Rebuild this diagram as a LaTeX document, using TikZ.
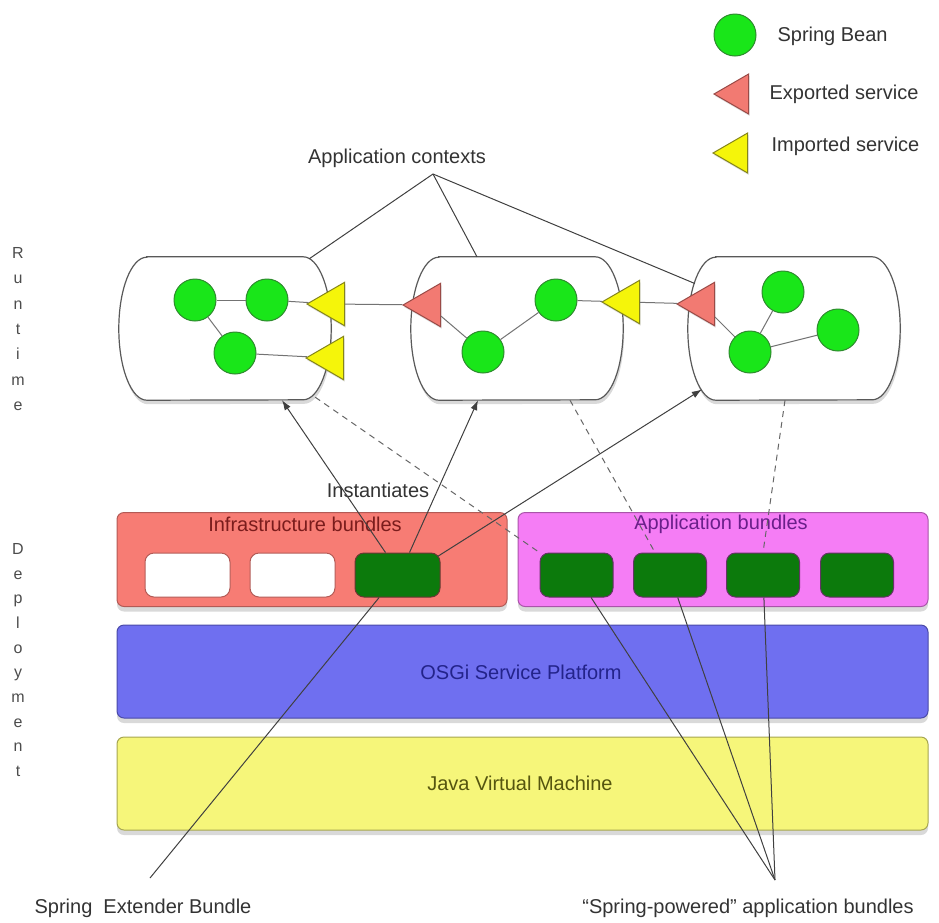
\documentclass[tikz,border=0pt]{standalone}
\usepackage{fontspec}
\setmainfont{Liberation Sans}
\usetikzlibrary{positioning,shapes.geometric,shadows,calc,arrows.meta}

\definecolor{beanfill}{HTML}{19E619}
\definecolor{beanedge}{HTML}{2E8B2E}
\definecolor{expfill}{HTML}{F27A72}
\definecolor{expedge}{HTML}{9A4A46}
\definecolor{impfill}{HTML}{F5F50A}
\definecolor{impedge}{HTML}{85851A}
\definecolor{infrafill}{HTML}{F77C74}
\definecolor{infraedge}{HTML}{B35A55}
\definecolor{infratext}{HTML}{7A1C1C}
\definecolor{appfill}{HTML}{F57DF5}
\definecolor{appedge}{HTML}{A955A9}
\definecolor{apptext}{HTML}{6A1F8A}
\definecolor{osgifill}{HTML}{6F6FF0}
\definecolor{osgiedge}{HTML}{4A4AA8}
\definecolor{osgitext}{HTML}{23238A}
\definecolor{jvmfill}{HTML}{F6F67A}
\definecolor{jvmedge}{HTML}{A6A650}
\definecolor{jvmtext}{HTML}{55550F}
\definecolor{bundlegreen}{HTML}{0C7A0C}

\begin{document}
\begin{tikzpicture}[x=1pt,y=-1pt,
      every node/.style={font=\fontsize{20}{22}\selectfont,text=black!80},
      bean/.style={circle,inner sep=0pt,minimum size=42pt,fill=beanfill,draw=beanedge,line width=1pt},
      svc/.style={regular polygon,regular polygon sides=3,shape border rotate=90,inner sep=0pt,minimum size=50pt,line width=1pt,drop shadow={shadow xshift=1pt,shadow yshift=-2pt,opacity=0.25}},
      exported/.style={svc,fill=expfill,draw=expedge},
      imported/.style={svc,fill=impfill,draw=impedge},
      ctxbox/.style={rectangle,minimum width=212pt,minimum height=143pt,inner sep=0pt},
      pill/.style={fill=white,draw=black!65,line width=1.2pt,drop shadow={shadow xshift=1pt,shadow yshift=-4pt,opacity=0.3}},
      layer/.style={rectangle,rounded corners=7pt,minimum height=94pt,line width=1pt,drop shadow={shadow xshift=0pt,shadow yshift=-5pt,opacity=0.3}},
      bundlebox/.style={rectangle,rounded corners=9pt,minimum height=44pt,line width=1pt},
      wire/.style={draw=black!55,line width=1pt},
      link/.style={draw=black!75,line width=1pt},
      instarrow/.style={link,-{Latex[length=10pt,width=7pt]}},
      dashlink/.style={draw=black!60,line width=1pt,dash pattern=on 6pt off 5pt},
      sidetext/.style={align=center,text=black!70}]
  \useasboundingbox (0,0) rectangle (939,922);

  % key
  \node[bean] (keybean) at (735,35) {};
  \node[anchor=west] (keybeantxt) at (774,36) {Spring Bean};
  \node[exported,minimum size=46pt] (keyexp) at (737,94) {};
  \node[anchor=west] (keyexptxt) at (766,94) {Exported service};
  \node[imported,minimum size=46pt] (keyimp) at (736,153) {};
  \node[anchor=west] (keyimptxt) at (768,146) {Imported service};

  % side labels
  \node[sidetext,font=\fontsize{16}{25.3}\selectfont] (runtimelbl) at (18,329) {R\\u\\n\\t\\i\\m\\e};
  \node[sidetext,font=\fontsize{16}{24.7}\selectfont] (deploylbl) at (18,660) {D\\e\\p\\l\\o\\y\\m\\e\\n\\t};

  % application contexts
  \node[ctxbox] (ctx1) at (225,328.5) {};
  \node[ctxbox] (ctx2) at (517,328.5) {};
  \node[ctxbox] (ctx3) at (794,328.5) {};
  \foreach \c in {ctx1,ctx2,ctx3}
    \draw[pill] ([xshift=28pt]\c.north west) -- ([xshift=-28pt]\c.north east)
      arc[start angle=90,end angle=-90,x radius=28pt,y radius=71.5pt]
      -- ([xshift=28pt]\c.south west)
      arc[start angle=270,end angle=90,x radius=28pt,y radius=71.5pt] -- cycle;

  \node[bean] (b11) at (195,300) {};
  \node[bean] (b12) at (267,300) {};
  \node[bean] (b13) at (235,353) {};
  \node[imported] (i11) at (332,304) {};
  \node[imported] (i12) at (331,358) {};

  \node[exported] (e21) at (428,305) {};
  \node[bean] (b21) at (483,352) {};
  \node[bean] (b22) at (556,300) {};
  \node[imported] (i22) at (627,302) {};

  \node[exported] (e31) at (702,304) {};
  \node[bean] (b31) at (783,292) {};
  \node[bean] (b32) at (838,330) {};
  \node[bean] (b33) at (750,352) {};

  \draw[wire] (b11) -- (b12);
  \draw[wire] (b11) -- (b13);
  \draw[wire] (b12) -- (i11);
  \draw[wire] (b13) -- (i12);
  \draw[wire] (i11) -- (e21);
  \draw[wire] (e21) -- (b21);
  \draw[wire] (b21) -- (b22);
  \draw[wire] (b22) -- (i22);
  \draw[wire] (i22) -- (e31);
  \draw[wire] (e31) -- (b33);
  \draw[wire] (b33) -- (b31);
  \draw[wire] (b33) -- (b32);

  \node (ctxlbl) at (397,158) {Application contexts};
  \coordinate (ctxtip) at (433,174);
  \draw[link] (ctxtip) -- ($(ctx1.north east)+(-22,2)$);
  \draw[link] (ctxtip) -- ($(ctx2.north)+(-40,0)$);
  \draw[link] (ctxtip) -- ($(ctx3.west)+(7,-45)$);

  % deployment layers
  \node[layer,fill=infrafill,draw=infraedge,minimum width=390pt] (infra) at (312,559.5) {};
  \node[layer,fill=appfill,draw=appedge,minimum width=410pt] (appl) at (723,559.5) {};
  \node[layer,fill=osgifill,draw=osgiedge,minimum width=811pt,minimum height=93pt] (osgi) at (522.5,671.5) {};
  \node[layer,fill=jvmfill,draw=jvmedge,minimum width=811pt,minimum height=93pt] (jvm) at (522.5,783.5) {};
  \node[text=infratext] (infralbl) at (305,524) {Infrastructure bundles};
  \node[text=apptext] (appllbl) at (721,524) {Application bundles};
  \node[text=osgitext] (osgilbl) at (521,672) {OSGi Service Platform};
  \node[text=jvmtext] (jvmlbl) at (520,783) {Java Virtual Machine};

  \node[bundlebox,fill=white,draw=infraedge,minimum width=85pt] (w1) at (187.5,575) {};
  \node[bundlebox,fill=white,draw=infraedge,minimum width=85pt] (w2) at (292.5,575) {};
  \node[bundlebox,fill=bundlegreen,draw=infraedge!60!black,minimum width=85pt] (g3) at (397.5,575) {};
  \foreach \n/\x in {a1/576.5,a2/670,a3/763,a4/857}
    \node[bundlebox,fill=bundlegreen,draw=appedge!60!black,minimum width=73pt] (\n) at (\x,575) {};

  % instantiation
  \node (instlbl) at (378,490) {Instantiates};
  \draw[instarrow] ($(g3.north)+(-12,0)$) -- ($(ctx1.south)+(57,0)$);
  \draw[instarrow] ($(g3.north)+(12,0)$) -- ($(ctx2.south)+(-39,0)$);
  \draw[instarrow] ($(g3.north east)+(-3,4)$) -- ($(ctx3.west)+(14,61)$);

  \draw[dashlink] ($(ctx1.south east)+(-16,-3)$) -- (a1.north west);
  \draw[dashlink] ($(ctx2.south)+(53,0)$) -- ($(a2.north)+(-15,0)$);
  \draw[dashlink] ($(ctx3.south)+(-9,0)$) -- (a3.north);

  % callouts
  \node (extlbl) at (143,908) {Spring\ \ Extender Bundle};
  \coordinate (extpt) at (150,878);
  \draw[link] (g3) -- (extpt);

  \node (powlbl) at (748,908) {``Spring-powered'' application bundles};
  \coordinate (powpt) at (775,880);
  \draw[link] (a1) -- (powpt);
  \draw[link] (a2) -- (powpt);
  \draw[link] (a3) -- (powpt);
\end{tikzpicture}
\end{document}
